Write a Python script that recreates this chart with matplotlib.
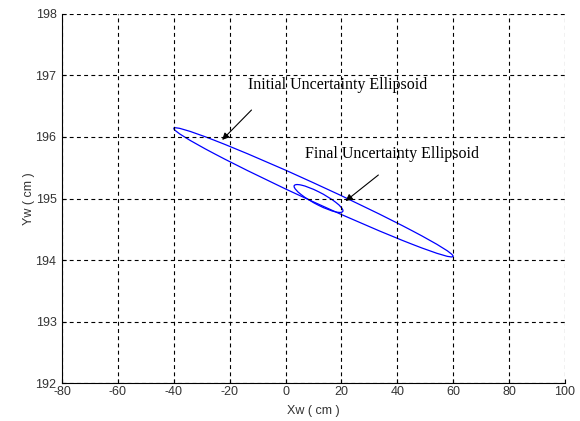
import matplotlib.pyplot as plt
from matplotlib.patches import Ellipse

plt.rcParams['axes.unicode_minus'] = False

# uncertainty ellipses (data units)
names = ["Initial", "Final"]
center_x = [10.0, 11.8]
center_y = [195.1, 195.0]
major_len = [100.0, 17.5]
minor_len = [0.31, 0.22]
tilt_deg = [-1.19, -1.3]

labels = ["Initial Uncertainty Ellipsoid", "Final Uncertainty Ellipsoid"]
label_xy = [(-13.3, 196.85), (7.0, 195.72)]
arrow_tip = [(-23.4, 195.92), (20.7, 194.93)]
arrow_tail = [(-11.5, 196.47), (34.0, 195.41)]

x_ticks = [-80, -60, -40, -20, 0, 20, 40, 60, 80, 100]
y_ticks = [192, 193, 194, 195, 196, 197, 198]

fig = plt.figure(figsize=(5.8, 4.21), dpi=100)
ax = fig.add_axes([0.107, 0.090, 0.867, 0.877])

for i in range(len(names)):
    e = Ellipse((center_x[i], center_y[i]), major_len[i], minor_len[i],
                angle=tilt_deg[i], fill=False, edgecolor='#0000ff', lw=0.9)
    ax.add_patch(e)

for i in range(len(labels)):
    ax.annotate("", xy=arrow_tip[i], xytext=arrow_tail[i],
                arrowprops=dict(arrowstyle='-|>', color='black', lw=0.8,
                                mutation_scale=10))
    ax.text(label_xy[i][0], label_xy[i][1], labels[i], fontsize=11.5,
            family='Liberation Serif', va='center', ha='left')

ax.set_xlim(-80, 100)
ax.set_ylim(192, 198)
ax.set_xticks(x_ticks)
ax.set_yticks(y_ticks)
ax.grid(True, color='black', linestyle=(0, (3.5, 3)), lw=0.8)
ax.spines['top'].set_visible(False)
ax.spines['right'].set_visible(False)
ax.tick_params(direction='in', length=3, labelsize=9, labelcolor='#333333')
ax.tick_params(axis='x', pad=2)
ax.tick_params(axis='y', pad=4)
for lab in ax.get_xticklabels() + ax.get_yticklabels():
    lab.set_family('Liberation Sans')
ax.set_xlabel("Xw ( cm )", fontsize=9, family='Liberation Sans', color='#333333')
ax.set_ylabel("Yw ( cm )", fontsize=9, family='Liberation Sans', color='#333333')
ax.xaxis.set_label_coords(0.5, -0.058)
ax.yaxis.set_label_coords(-0.054, 0.5)

fig.savefig("out.png", dpi=100)
